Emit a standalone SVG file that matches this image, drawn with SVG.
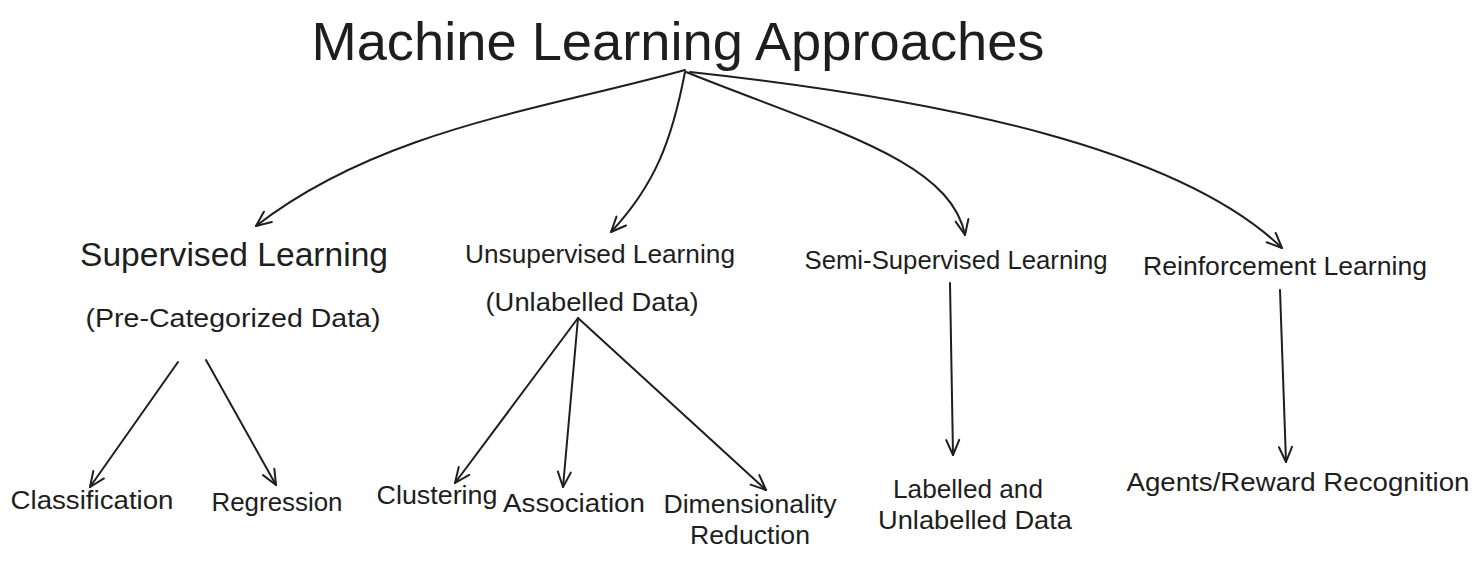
<svg xmlns="http://www.w3.org/2000/svg" width="1480" height="562" viewBox="0 0 1480 562">
<defs>
<style>
text{font-family:"Liberation Sans",Arial,sans-serif;fill:#1e1e1e;text-anchor:middle}
.t{font-size:54px}
.h{font-size:33px}
.m{font-size:26px}
.c{fill:none;stroke:#1e1e1e;stroke-width:2;stroke-linecap:round}
</style>
<marker id="ah" viewBox="-20 -10 24 20" refX="0" refY="0" markerWidth="24" markerHeight="20" orient="auto" markerUnits="userSpaceOnUse" overflow="visible">
<path d="M -15 -6.5 L 0 0 L -15 6.5" fill="none" stroke="#1e1e1e" stroke-width="2" stroke-linecap="round" stroke-linejoin="round"/>
</marker>
</defs>
<rect width="1480" height="562" fill="#ffffff"/>
<g id="title"><text class="t" x="678" y="60" textLength="733" lengthAdjust="spacingAndGlyphs">Machine Learning Approaches</text></g>
<g id="supervised">
<text class="h" x="234" y="266" textLength="308" lengthAdjust="spacingAndGlyphs">Supervised Learning</text>
<text class="m" x="233" y="327" textLength="295" lengthAdjust="spacingAndGlyphs">(Pre-Categorized Data)</text>
</g>
<g id="unsupervised">
<text class="m" x="600" y="263" textLength="270" lengthAdjust="spacingAndGlyphs">Unsupervised Learning</text>
<text class="m" x="592" y="311" textLength="213" lengthAdjust="spacingAndGlyphs">(Unlabelled Data)</text>
</g>
<g id="semi"><text class="m" x="956" y="269" textLength="303" lengthAdjust="spacingAndGlyphs">Semi-Supervised Learning</text></g>
<g id="reinforcement"><text class="m" x="1285" y="275" textLength="284" lengthAdjust="spacingAndGlyphs">Reinforcement Learning</text></g>
<g id="classification"><text class="m" x="92" y="509" textLength="163" lengthAdjust="spacingAndGlyphs">Classification</text></g>
<g id="regression"><text class="m" x="277" y="511" textLength="131" lengthAdjust="spacingAndGlyphs">Regression</text></g>
<g id="clustering"><text class="m" x="437" y="504" textLength="121" lengthAdjust="spacingAndGlyphs">Clustering</text></g>
<g id="association"><text class="m" x="574" y="512" textLength="142" lengthAdjust="spacingAndGlyphs">Association</text></g>
<g id="dimensionality">
<text class="m" x="750" y="513" textLength="173" lengthAdjust="spacingAndGlyphs">Dimensionality</text>
<text class="m" x="750" y="544" textLength="120" lengthAdjust="spacingAndGlyphs">Reduction</text>
</g>
<g id="labelled">
<text class="m" x="968" y="498" textLength="150" lengthAdjust="spacingAndGlyphs">Labelled and</text>
<text class="m" x="975" y="529" textLength="194" lengthAdjust="spacingAndGlyphs">Unlabelled Data</text>
</g>
<g id="agents"><text class="m" x="1298" y="491" textLength="343" lengthAdjust="spacingAndGlyphs">Agents/Reward Recognition</text></g>
<g id="connectors" class="c" marker-end="url(#ah)">
<path class="c" marker-end="url(#ah)" d="M 685 70 C 540 110, 380 130, 256 226"/>
<path class="c" marker-end="url(#ah)" d="M 685 72 C 672 140, 655 185, 611 232"/>
<path class="c" marker-end="url(#ah)" d="M 686 72 C 830 130, 950 160, 965 235"/>
<path class="c" marker-end="url(#ah)" d="M 690 72 C 950 100, 1180 150, 1282 248"/>
<path class="c" marker-end="url(#ah)" d="M 178 362 L 90 487"/>
<path class="c" marker-end="url(#ah)" d="M 206 360 L 276 485"/>
<path class="c" marker-end="url(#ah)" d="M 578 318 L 455 483"/>
<path class="c" marker-end="url(#ah)" d="M 578 318 L 563 487"/>
<path class="c" marker-end="url(#ah)" d="M 578 318 L 766 490"/>
<path class="c" marker-end="url(#ah)" d="M 950 283 L 953 455"/>
<path class="c" marker-end="url(#ah)" d="M 1280 290 L 1286 462"/>
</g>
</svg>
